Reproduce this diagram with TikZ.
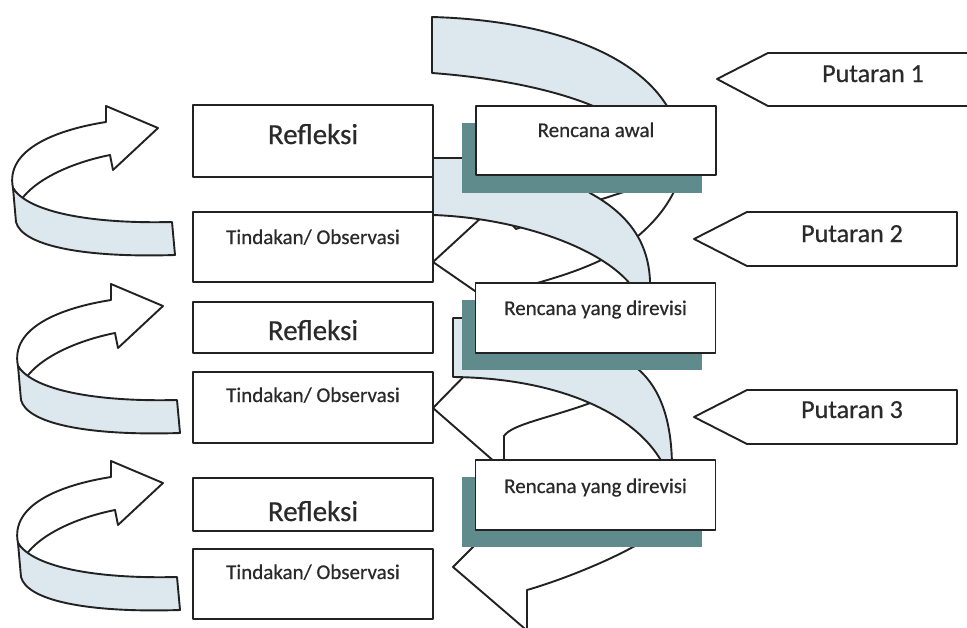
\documentclass[tikz,border=0pt]{standalone}
\usepackage{fontspec}
\setmainfont{Carlito}[FakeBold=0.5]
\definecolor{bandblue}{HTML}{DCE7EE}
\definecolor{shade}{HTML}{5F8B8C}
\definecolor{ink}{HTML}{222222}
\definecolor{txt}{HTML}{2A2A2A}
\begin{document}
\begin{tikzpicture}[x=1pt,y=-1pt,
  line join=round,
  outline/.style={draw=ink, line width=1.9pt},
  box/.style={outline, fill=white, rectangle, inner sep=0pt, outer sep=0pt, minimum width=240pt},
  shadowbox/.style={fill=shade, rectangle, inner sep=0pt, outer sep=0pt, minimum width=240pt, minimum height=70pt},
  ribbon/.style={outline, fill=bandblue},
  backarrow/.style={outline, fill=white},
  lbl/.style={text=txt, anchor=base, inner sep=0pt, font=\fontsize{21}{24}\selectfont},
  biglbl/.style={lbl, font=\fontsize{29}{32}\selectfont},
  tag/.style={outline, fill=white},
  taglbl/.style={lbl, font=\fontsize{26}{30}\selectfont},
  turn/.pic={
    \path[backarrow] (13,188) .. controls (5,150) and (55,130) .. (106,122) -- (106,106) -- (158,128) -- (113,170) -- (110,155) .. controls (70,163) and (35,180) .. (21,200) -- cycle;
    \path[ribbon] (13,188) .. controls (28,212) and (90,224) .. (172,222) -- (175,255) .. controls (80,258) and (22,245) .. (16,222) -- cycle;
  }
]
\useasboundingbox (0,0) rectangle (967,627);
\clip (0,0) rectangle (967,627);
\fill[white] (0,0) rectangle (967,627);

% back (white) turns of the spiral
\path[backarrow] (433,262) -- (495,205) -- (516,229) .. controls (555,215) and (595,201) .. (627,191) -- (660,175) -- (685,160) .. controls (676,200) and (655,225) .. (620,250) .. controls (590,268) and (555,278) .. (530,285) -- (530,300) -- (488,300) -- cycle;
\path[backarrow] (433,408) -- (478,362) -- (495,372) .. controls (550,360) and (600,345) .. (640,340) -- (680,330) .. controls (630,360) and (620,390) .. (593,402) .. controls (550,418) and (512,424) .. (504,436) -- (504,470) -- cycle;
\path[backarrow] (453,567) -- (485,535) -- (505,540) .. controls (560,525) and (620,505) .. (685,485) .. controls (675,515) and (660,535) .. (633,547) .. controls (600,565) and (555,582) .. (527,590) -- (527,640) -- (538,640) -- cycle;

% front (blue) bands of the spiral
\path[ribbon] (432,17) .. controls (540,20) and (640,50) .. (672,115) -- (612,115) .. controls (570,92) and (500,78) .. (432,73) -- cycle;
\path[ribbon] (433,158) -- (480,158) .. controls (540,165) and (575,180) .. (590,193) .. controls (630,215) and (652,245) .. (650,292) -- (636,292) .. controls (610,250) and (520,218) .. (433,215) -- cycle;
\path[ribbon] (453,318) -- (480,318) .. controls (560,320) and (610,345) .. (638,369) .. controls (660,388) and (672,420) .. (672,468) -- (665,468) .. controls (640,415) and (560,378) .. (453,377) -- cycle;

% left column boxes
\node[box, minimum height=72pt] (refl1) at (313,141) {};
\node[box, minimum height=70pt] (tind1) at (313,247) {};
\node[box, minimum height=51pt] (refl2) at (313,327.5) {};
\node[box, minimum height=71pt] (tind2) at (313,407.5) {};
\node[box, minimum height=53pt] (refl3) at (313,504.5) {};
\node[box, minimum height=70pt] (tind3) at (313,584) {};

% plan boxes with shadows
\node[shadowbox] (sh1) at (582,157.5) {};
\node[shadowbox] (sh2) at (581.5,335) {};
\node[shadowbox] (sh3) at (581.5,512) {};
\node[box, minimum height=69pt] (ren1) at (596,140.5) {};
\node[box, minimum height=70pt] (ren2) at (595.5,318) {};
\node[box, minimum height=70pt] (ren3) at (595.5,495) {};

% texts
\node[biglbl] (trefl1) at (313,144) {Refleksi};
\node[biglbl] (trefl2) at (313,340) {Refleksi};
\node[biglbl] (trefl3) at (313,521) {Refleksi};
\node[lbl] (ttind1) at (313,244) {Tindakan/ Observasi};
\node[lbl] (ttind2) at (313,402) {Tindakan/ Observasi};
\node[lbl] (ttind3) at (313,579) {Tindakan/ Observasi};
\node[lbl] (tren1) at (596,137) {Rencana awal};
\node[lbl] (tren2) at (595.5,315) {Rencana yang direvisi};
\node[lbl] (tren3) at (595.5,493) {Rencana yang direvisi};

% left curved arrows
\pic at (0,0) {turn};
\pic at (5,178) {turn};
\pic at (5,355) {turn};

% Putaran tags
\path[tag] (717,79) -- (768,53) -- (980,53) -- (980,106) -- (768,106) -- cycle;
\path[tag] (694,239) -- (747,212) -- (957,212) -- (957,266) -- (747,266) -- cycle;
\path[tag] (694,417) -- (747,390) -- (957,390) -- (957,444) -- (747,444) -- cycle;
\node[taglbl] (p1) at (873,82) {Putaran 1};
\node[taglbl] (p2) at (852,242) {Putaran 2};
\node[taglbl] (p3) at (852,418) {Putaran 3};
\end{tikzpicture}
\end{document}
